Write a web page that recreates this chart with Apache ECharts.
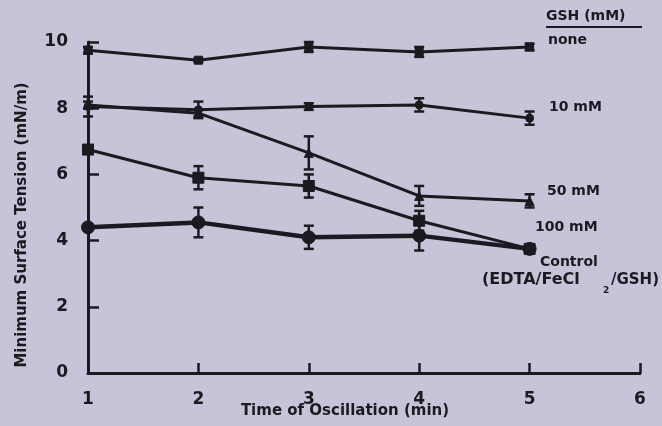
<!DOCTYPE html>
<html>
<head>
<meta charset="utf-8">
<script src="https://cdn.jsdelivr.net/npm/echarts@6/dist/echarts.min.js"></script>
<style>
  html, body { margin: 0; padding: 0; background: #c8c3d8; }
  #main { width: 662px; height: 426px; }
</style>
</head>
<body>
<div id="main"></div>
<script>
// time of oscillation (min)
var times = [1, 2, 3, 4, 5];

// minimum surface tension (mN/m)
var noneVals = [9.75, 9.45, 9.85, 9.7, 9.85];
var mM10Vals = [8.05, 7.95, 8.05, 8.1, 7.7];
var mM50Vals = [8.1, 7.85, 6.65, 5.35, 5.2];
var mM100Vals = [6.75, 5.9, 5.65, 4.6, 3.75];
var controlVals = [4.4, 4.55, 4.1, 4.15, 3.75];

// error bar half widths
var noneErr = [0.1, 0.05, 0.15, 0.15, 0.1];
var mM10Err = [0.3, 0.25, 0.1, 0.2, 0.2];
var mM50Err = [0.1, 0.1, 0.5, 0.3, 0.2];
var mM100Err = [0.1, 0.35, 0.35, 0.3, 0.1];
var controlErr = [0.1, 0.45, 0.35, 0.45, 0.1];

var ink = '#1b1a20';
var font = 'DejaVu Sans';
var labelFont = 'bold 14px "DejaVu Sans"';

function pairs(vals) {
    return times.map(function (t, i) { return [t, vals[i]]; });
}
function errData(vals, errs) {
    return times.map(function (t, i) { return [t, vals[i] - errs[i], vals[i] + errs[i]]; });
}
function errSeries(vals, errs) {
    return {
        type: 'custom',
        data: errData(vals, errs),
        z: 3,
        renderItem: function (params, api) {
            var lo = api.coord([api.value(0), api.value(1)]);
            var hi = api.coord([api.value(0), api.value(2)]);
            var w = 5;
            var st = { stroke: ink, lineWidth: 2.5 };
            return {
                type: 'group',
                children: [
                    { type: 'line', shape: { x1: lo[0], y1: lo[1], x2: hi[0], y2: hi[1] }, style: st },
                    { type: 'line', shape: { x1: lo[0] - w, y1: lo[1], x2: lo[0] + w, y2: lo[1] }, style: st },
                    { type: 'line', shape: { x1: hi[0] - w, y1: hi[1], x2: hi[0] + w, y2: hi[1] }, style: st }
                ]
            };
        }
    };
}
function lineSeries(name, vals, symbol, size, width) {
    return {
        name: name,
        type: 'line',
        data: pairs(vals),
        symbol: symbol,
        symbolSize: size,
        showSymbol: true,
        lineStyle: { color: ink, width: width },
        itemStyle: { color: ink, borderColor: ink },
        z: 4
    };
}

var myChart = echarts.init(document.getElementById('main'));

var option = {
    backgroundColor: '#c8c3d8',
    animation: false,
    grid: { left: 88, right: 22, top: 42, bottom: 53 },
    xAxis: {
        type: 'value',
        min: 1, max: 6, interval: 1,
        axisLine: { lineStyle: { color: ink, width: 3 } },
        axisTick: { inside: true, length: 10, lineStyle: { color: ink, width: 2.5 } },
        axisLabel: { color: ink, fontFamily: font, fontWeight: 'bold', fontSize: 17, margin: 18 },
        splitLine: { show: false }
    },
    yAxis: {
        type: 'value',
        min: 0, max: 10, interval: 2,
        axisLine: { lineStyle: { color: ink, width: 3 } },
        axisTick: { inside: true, length: 11, lineStyle: { color: ink, width: 2.5 } },
        axisLabel: { color: ink, fontFamily: font, fontWeight: 'bold', fontSize: 17, margin: 20 },
        splitLine: { show: false }
    },
    series: [
        lineSeries('none', noneVals, 'rect', 8, 3),
        lineSeries('10 mM', mM10Vals, 'circle', 8, 3),
        lineSeries('50 mM', mM50Vals, 'triangle', 9, 3),
        lineSeries('100 mM', mM100Vals, 'rect', 11, 3),
        lineSeries('Control', controlVals, 'circle', 13, 4.5),
        errSeries(noneVals, noneErr),
        errSeries(mM10Vals, mM10Err),
        errSeries(mM50Vals, mM50Err),
        errSeries(mM100Vals, mM100Err),
        errSeries(controlVals, controlErr)
    ],
    graphic: [
        { type: 'text', x: 22, y: 225, rotation: Math.PI / 2,
          style: { text: 'Minimum Surface Tension (mN/m)', fill: ink, font: 'bold 15px "DejaVu Sans"', align: 'center', verticalAlign: 'middle' } },
        { type: 'text', x: 345, y: 411,
          style: { text: 'Time of Oscillation (min)', fill: ink, font: 'bold 15px "DejaVu Sans"', align: 'center', verticalAlign: 'middle' } },
        { type: 'text', left: 546, top: 9, style: { text: 'GSH (mM)', fill: ink, font: labelFont } },
        { type: 'line', shape: { x1: 546, y1: 27, x2: 642, y2: 27 }, style: { stroke: ink, lineWidth: 2 } },
        { type: 'text', left: 548, top: 33, style: { text: 'none', fill: ink, font: labelFont } },
        { type: 'text', left: 549, top: 100, style: { text: '10 mM', fill: ink, font: labelFont } },
        { type: 'text', left: 547, top: 184, style: { text: '50 mM', fill: ink, font: labelFont } },
        { type: 'text', left: 535, top: 220, style: { text: '100 mM', fill: ink, font: labelFont } },
        { type: 'text', left: 540, top: 255, style: { text: 'Control', fill: ink, font: labelFont } },
        { type: 'text', left: 482, top: 272, style: { text: '(EDTA/FeCl', fill: ink, font: 'bold 16px "DejaVu Sans"' } },
        { type: 'text', left: 603, top: 286, style: { text: '2', fill: ink, font: 'bold 9px "DejaVu Sans"' } },
        { type: 'text', left: 611, top: 273, style: { text: '/GSH)', fill: ink, font: 'bold 15px "DejaVu Sans"' } }
    ]
};
myChart.setOption(option);
</script>
</body>
</html>
